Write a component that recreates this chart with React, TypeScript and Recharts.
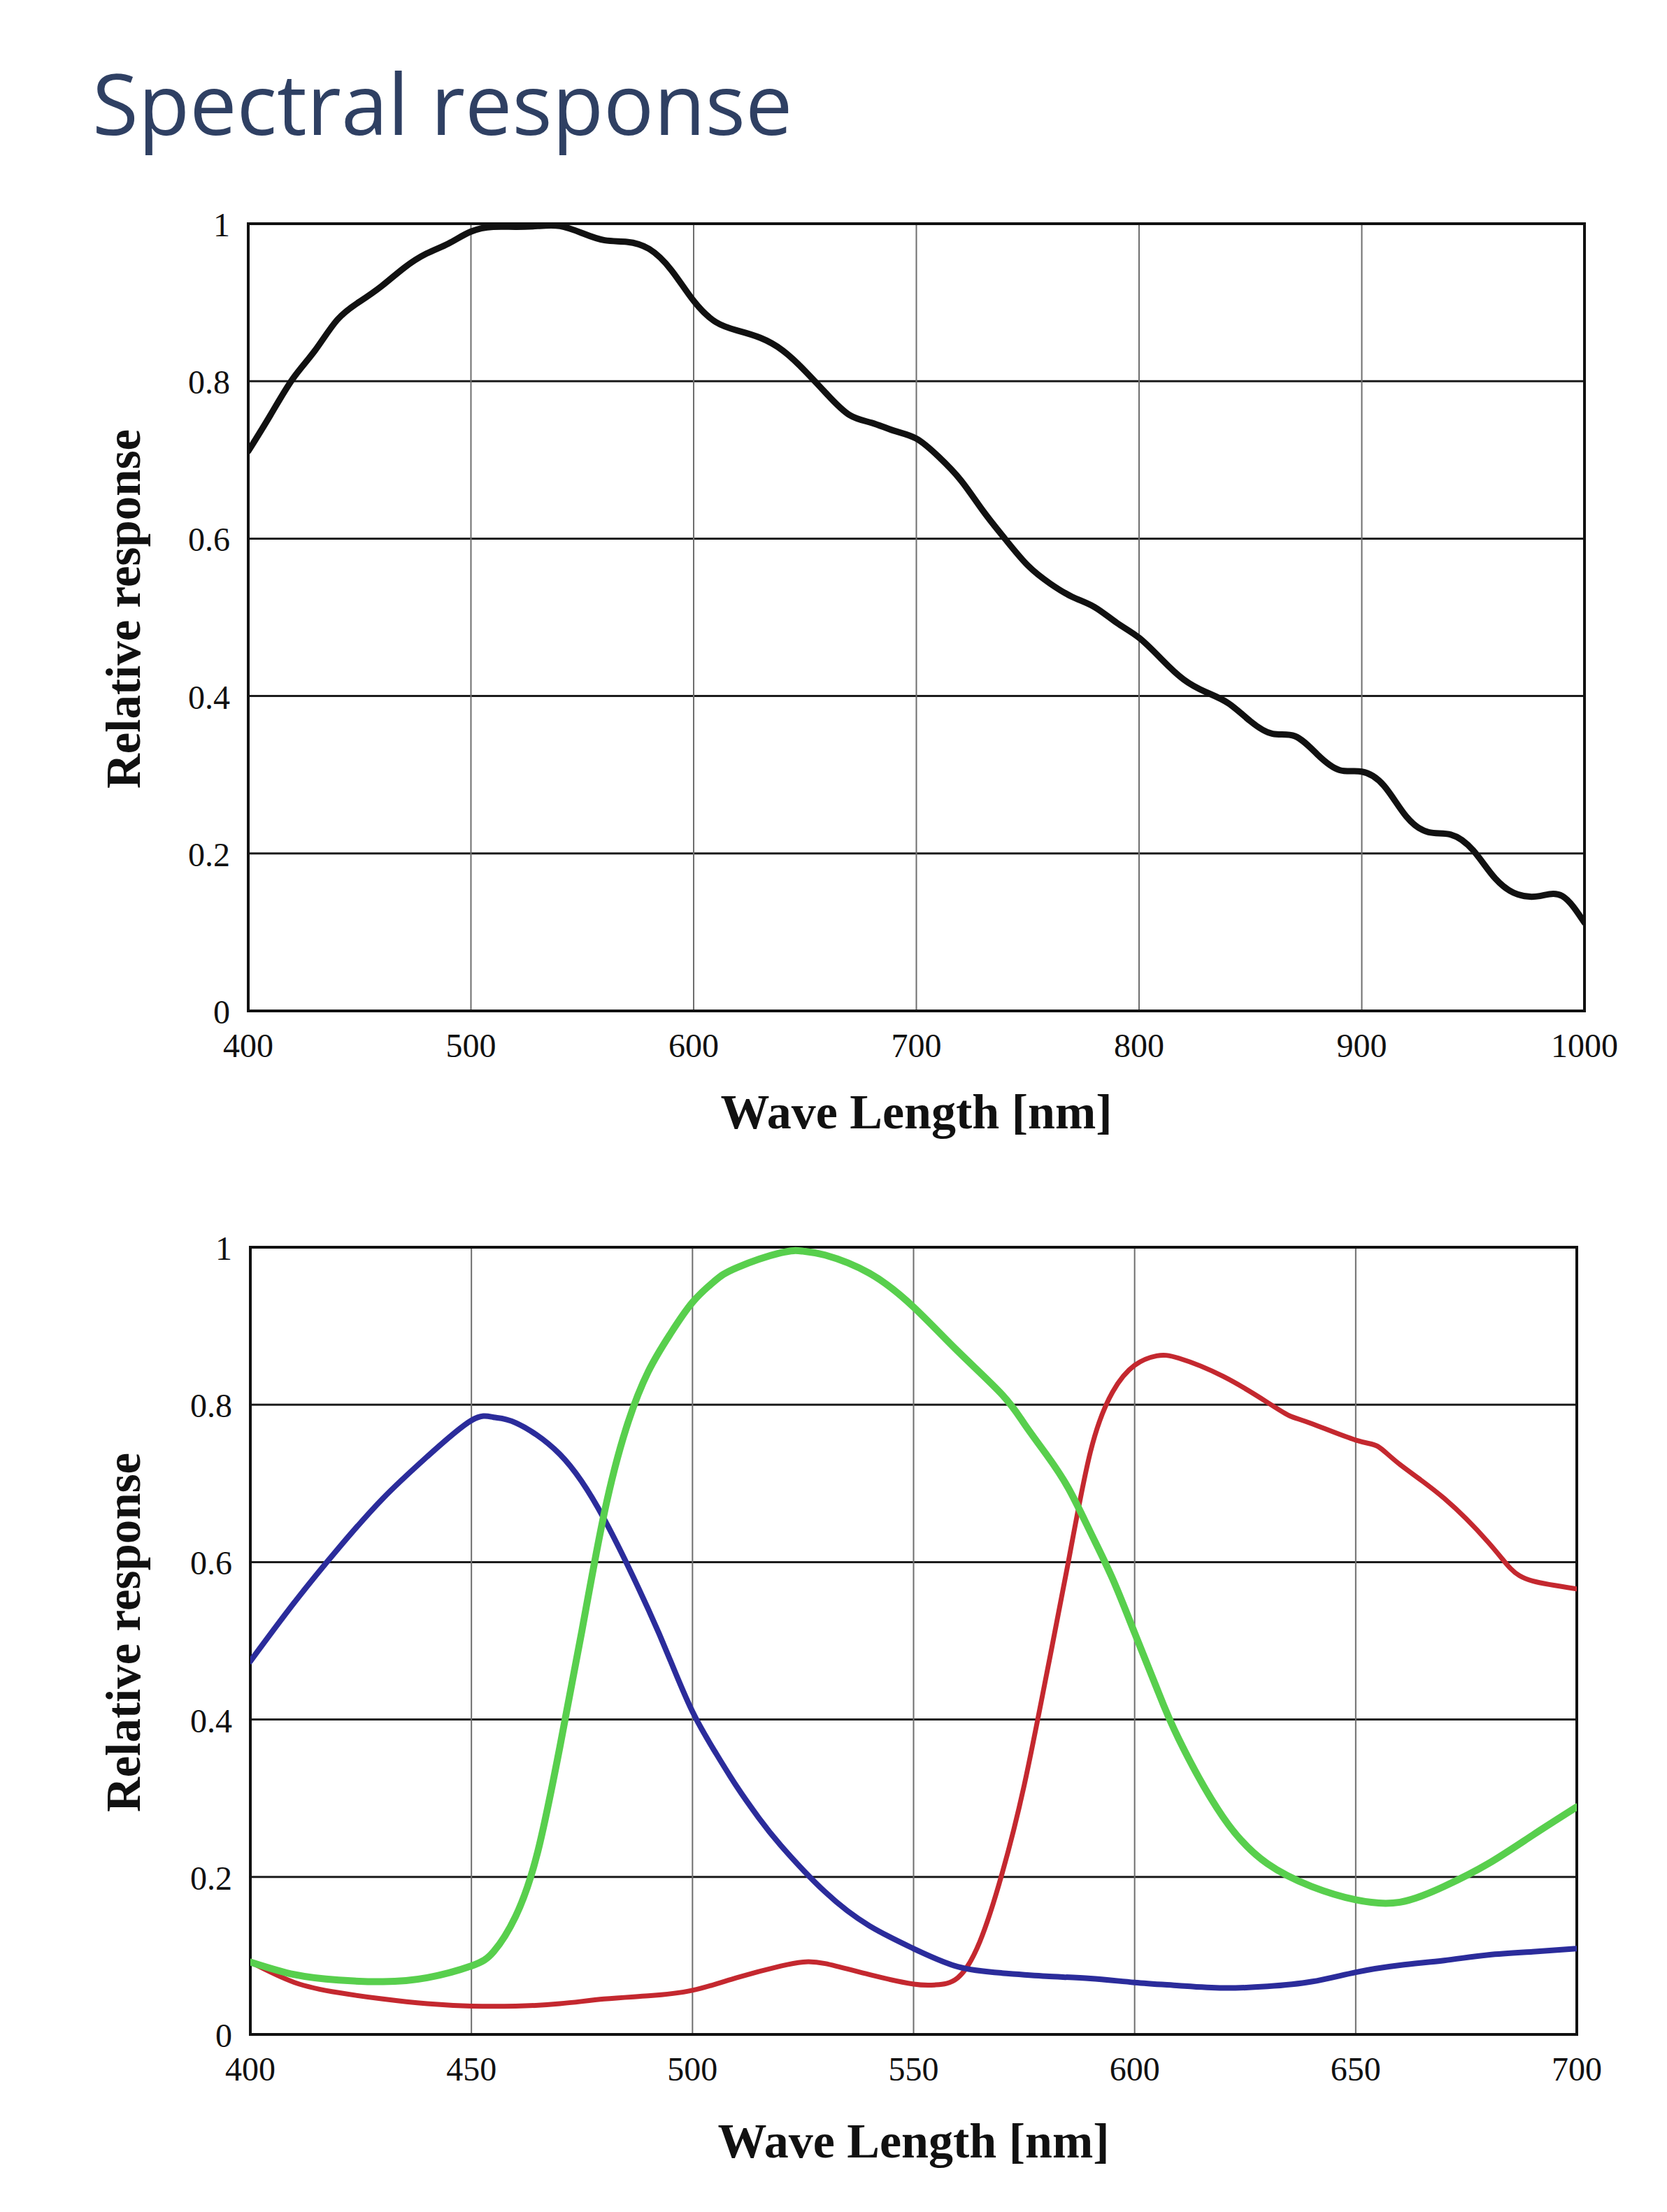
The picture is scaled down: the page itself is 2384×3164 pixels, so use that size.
import { LineChart, Line, XAxis, YAxis, CartesianGrid, ReferenceArea, Label } from 'recharts';

// ---- data ----
const monoWavelengths = [
  400, 410, 420, 430, 440, 450, 460, 470, 480, 490, 500, 510, 520, 530, 540, 550, 560, 570, 580, 590,
  600, 610, 620, 630, 640, 650, 660, 670, 680, 690, 700, 710, 720, 730, 740, 750, 760, 770, 780, 790,
  800, 810, 820, 830, 840, 850, 860, 870, 880, 890, 900, 910, 920, 930, 940, 950, 960, 970, 980, 990, 1000,
];
const monoResponse = [
  0.711, 0.757, 0.803, 0.839, 0.878, 0.901, 0.921, 0.944, 0.962, 0.975, 0.99, 0.996, 0.996, 0.997, 0.997, 0.988, 0.979, 0.977, 0.968, 0.941,
  0.902, 0.875, 0.864, 0.855, 0.839, 0.813, 0.783, 0.757, 0.747, 0.737, 0.727, 0.704, 0.674, 0.635, 0.599, 0.566, 0.543, 0.526, 0.513, 0.493,
  0.474, 0.447, 0.421, 0.405, 0.391, 0.368, 0.352, 0.349, 0.326, 0.306, 0.304, 0.286, 0.247, 0.227, 0.224, 0.204, 0.168, 0.148, 0.146, 0.146, 0.112,
];

const blueWavelengths = [
  400, 410, 420, 430, 440, 450, 455, 460, 470, 480, 490, 495, 500, 505, 510, 515, 520, 530, 540, 550,
  560, 570, 580, 590, 600, 610, 620, 630, 640, 650, 660, 670, 680, 690, 700,
];
const blueResponse = [
  0.474, 0.549, 0.618, 0.681, 0.734, 0.78, 0.784, 0.777, 0.737, 0.655, 0.54, 0.475, 0.41, 0.36, 0.315, 0.275, 0.24, 0.181, 0.138, 0.109,
  0.086, 0.078, 0.074, 0.071, 0.066, 0.062, 0.059, 0.061, 0.067, 0.079, 0.088, 0.094, 0.101, 0.105, 0.109,
];

const greenWavelengths = [
  400, 410, 420, 430, 440, 450, 455, 460, 465, 470, 475, 480, 485, 490, 495, 500, 505, 510, 520, 525, 530,
  540, 550, 560, 570, 575, 580, 585, 590, 595, 600, 605, 610, 620, 630, 640, 650, 660, 670, 680, 690, 700,
];
const greenResponse = [
  0.092, 0.076, 0.069, 0.067, 0.072, 0.087, 0.105, 0.15, 0.232, 0.365, 0.513, 0.661, 0.77, 0.842, 0.89, 0.93, 0.957, 0.974, 0.993, 0.995, 0.99,
  0.967, 0.924, 0.868, 0.813, 0.776, 0.737, 0.694, 0.638, 0.579, 0.51, 0.44, 0.375, 0.276, 0.217, 0.188, 0.171, 0.168, 0.188, 0.217, 0.253, 0.289,
];

const redWavelengths = [
  400, 410, 420, 430, 440, 450, 460, 470, 480, 490, 500, 510, 520, 525, 530, 540, 550, 555, 560, 565,
  570, 575, 580, 585, 590, 595, 600, 605, 610, 620, 630, 635, 640, 650, 655, 660, 670, 680, 685, 690, 700,
];
const redResponse = [
  0.092, 0.066, 0.053, 0.045, 0.039, 0.036, 0.036, 0.039, 0.045, 0.049, 0.056, 0.072, 0.087, 0.092, 0.09, 0.076, 0.064, 0.063, 0.072, 0.118,
  0.204, 0.316, 0.455, 0.6, 0.74, 0.816, 0.85, 0.862, 0.859, 0.836, 0.803, 0.786, 0.776, 0.755, 0.747, 0.724, 0.681, 0.625, 0.592, 0.576, 0.566,
];

const topXTicks = [400, 500, 600, 700, 800, 900, 1000];
const bottomXTicks = [400, 450, 500, 550, 600, 650, 700];
const yTicks = [0, 0.2, 0.4, 0.6, 0.8, 1];

const xTitle = 'Wave Length [nm]';
const yTitle = 'Relative response';

// ---- styling ----
const PAGE_W = 2384;
const SERIF = '"Liberation Serif", "Times New Roman", serif';
const INK = '#111';

const zip = (xs: number[], ys: number[]) => xs.map((wl, i) => ({ wl, v: ys[i] }));

interface Series {
  key: string;
  data: { wl: number; v: number }[];
  color: string;
  width: number;
}

interface Plot {
  left: number;
  right: number;
  top: number;
  bottom: number;
}

interface ChartProps {
  offsetTop: number;
  height: number;
  plot: Plot;
  domain: [number, number];
  xTicks: number[];
  titleGap: number;
  series: Series[];
}

function SpectrumChart({ offsetTop, height, plot, domain, xTicks, titleGap, series }: ChartProps) {
  const yAxisW = 100;
  const xAxisH = height - plot.bottom - 6;
  const midX = (plot.left + plot.right) / 2;
  const midY = (plot.top + plot.bottom) / 2 - 12;

  const yTick = ({ x, y, payload }: any) => (
    <text x={x} y={y + 18} textAnchor="end" fontFamily={SERIF} fontSize={48} fill={INK}>
      {payload.value}
    </text>
  );
  const xTick = ({ x, y, payload }: any) => (
    <text x={x} y={y + 66} textAnchor="middle" fontFamily={SERIF} fontSize={48} fill={INK}>
      {payload.value}
    </text>
  );

  return (
    <div style={{ position: 'absolute', left: 0, top: offsetTop }}>
      <LineChart
        width={PAGE_W}
        height={height}
        margin={{ top: plot.top, left: plot.left - yAxisW, right: PAGE_W - plot.right, bottom: 6 }}
      >
        <CartesianGrid vertical={false} stroke="#1c1c1c" strokeWidth={3} />
        <CartesianGrid horizontal={false} stroke="#6e6e6e" strokeWidth={2} />
        <XAxis
          dataKey="wl"
          type="number"
          domain={domain}
          ticks={xTicks}
          allowDataOverflow
          height={xAxisH}
          axisLine={false}
          tickLine={false}
          tickSize={0}
          tickMargin={0}
          tick={xTick}
        >
          <Label
            value={xTitle}
            content={({ value }: any) => (
              <text x={midX} y={plot.bottom + titleGap} textAnchor="middle" fontFamily={SERIF} fontWeight="bold" fontSize={70} fill={INK}>
                {value}
              </text>
            )}
          />
        </XAxis>
        <YAxis
          type="number"
          domain={[0, 1]}
          ticks={yTicks}
          width={yAxisW}
          axisLine={false}
          tickLine={false}
          tickSize={0}
          tickMargin={26}
          tick={yTick}
        >
          <Label
            value={yTitle}
            content={({ value }: any) => (
              <text
                x={176}
                y={midY}
                dy="0.35em"
                transform={`rotate(-90 176 ${midY})`}
                textAnchor="middle"
                fontFamily={SERIF}
                fontWeight="bold"
                fontSize={69}
                fill={INK}
              >
                {value}
              </text>
            )}
          />
        </YAxis>
        <ReferenceArea
          x1={domain[0]}
          x2={domain[1]}
          y1={0}
          y2={1}
          fill="none"
          stroke={INK}
          strokeWidth={4}
          ifOverflow="visible"
        />
        {series.map((s) => (
          <Line
            key={s.key}
            data={s.data}
            dataKey="v"
            type="natural"
            stroke={s.color}
            strokeWidth={s.width}
            strokeLinejoin="round"
            strokeLinecap="round"
            dot={false}
            activeDot={false}
            isAnimationActive={false}
          />
        ))}
      </LineChart>
    </div>
  );
}

export default function App() {
  return (
    <div style={{ position: 'relative', width: PAGE_W, height: 3164, background: '#fff', overflow: 'hidden' }}>
      <style>{'body{margin:0;background:#fff}'}</style>
      <svg width={PAGE_W} height={260} style={{ position: 'absolute', left: 0, top: 0 }}>
        <text x={132} y={193} fontFamily='"Open Sans", "Noto Sans", sans-serif' fontSize={120} fill="#2f4063">
          Spectral response
        </text>
      </svg>
      <SpectrumChart
        offsetTop={0}
        height={1640}
        plot={{ left: 355, right: 2266, top: 320, bottom: 1446 }}
        domain={[400, 1000]}
        xTicks={topXTicks}
        titleGap={168}
        series={[{ key: 'mono', data: zip(monoWavelengths, monoResponse), color: '#111', width: 9 }]}
      />
      <SpectrumChart
        offsetTop={1640}
        height={1524}
        plot={{ left: 358, right: 2255, top: 144, bottom: 1270 }}
        domain={[400, 700]}
        xTicks={bottomXTicks}
        titleGap={176}
        series={[
          { key: 'red', data: zip(redWavelengths, redResponse), color: '#c4282f', width: 7 },
          { key: 'blue', data: zip(blueWavelengths, blueResponse), color: '#2b2c9b', width: 8 },
          { key: 'green', data: zip(greenWavelengths, greenResponse), color: '#58cf4d', width: 10 },
        ]}
      />
    </div>
  );
}
